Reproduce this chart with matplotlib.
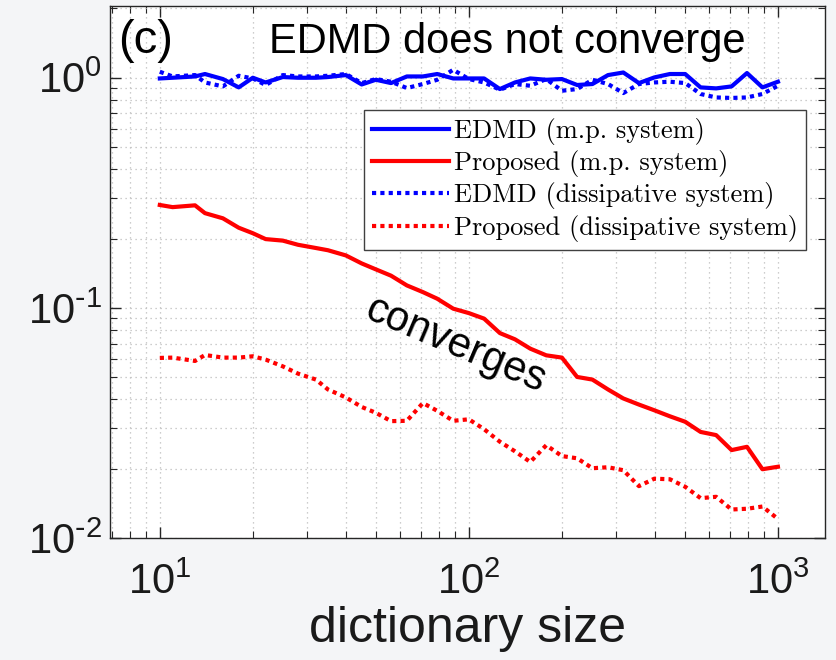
import matplotlib
matplotlib.use("Agg")
import matplotlib.pyplot as plt
from matplotlib.ticker import LogLocator, NullFormatter, FuncFormatter
import numpy as np

plt.rcParams['font.family'] = ['Liberation Sans', 'DejaVu Sans']

# dictionary sizes (41 log-spaced sizes between 10 and 1000)
dict_size = [10, 11, 13, 14, 16, 18, 20, 22, 25, 28, 32, 35, 40, 45, 50, 56, 63, 71, 79, 89,
             100, 112, 126, 141, 158, 178, 200, 224, 251, 282, 316, 355, 398, 447, 501, 562,
             631, 708, 794, 891, 1000]

# errors
edmd_mp = [0.993, 1.000, 1.013, 1.038, 0.987, 0.908, 1.000, 0.954, 1.007, 1.000, 1.000,
           1.007, 1.027, 0.935, 0.980, 0.948, 1.013, 1.013, 1.038, 0.993, 0.993, 0.993,
           0.893, 0.954, 0.993, 0.980, 0.987, 0.930, 0.939, 1.027, 1.054, 0.948, 1.003,
           1.038, 1.038, 0.908, 0.899, 0.917, 1.048, 0.908, 0.961]
prop_mp = [0.280, 0.274, 0.279, 0.258, 0.245, 0.223, 0.211, 0.199, 0.196, 0.188, 0.182,
           0.178, 0.169, 0.156, 0.147, 0.138, 0.1252, 0.1171, 0.1096, 0.0992, 0.0949,
           0.0898, 0.0777, 0.0730, 0.0665, 0.0622, 0.0608, 0.0501, 0.0488, 0.0442, 0.0404,
           0.0380, 0.0359, 0.0338, 0.0320, 0.0289, 0.0280, 0.0241, 0.0249, 0.0199, 0.0204]
edmd_diss = [1.062, 1.013, 1.027, 0.954, 0.917, 1.020, 0.993, 0.930, 1.027, 1.013, 1.013,
             1.020, 1.038, 0.948, 0.987, 0.961, 0.902, 0.939, 0.980, 1.083, 0.987, 0.954,
             0.887, 0.939, 0.923, 0.987, 0.878, 0.893, 0.980, 0.939, 0.858, 0.939, 0.954,
             0.961, 0.948, 0.850, 0.821, 0.817, 0.821, 0.850, 0.923]
prop_diss = [0.0606, 0.0608, 0.0588, 0.0624, 0.0608, 0.0608, 0.0616, 0.0596, 0.0557, 0.0518,
             0.0488, 0.0442, 0.0408, 0.0371, 0.0350, 0.0322, 0.0323, 0.0386, 0.0357, 0.0323,
             0.0328, 0.0297, 0.0262, 0.0238, 0.0214, 0.0253, 0.0227, 0.0222, 0.0201, 0.0203,
             0.0197, 0.0168, 0.0181, 0.0180, 0.0167, 0.0149, 0.0151, 0.0133, 0.0134, 0.0137,
             0.0121]

labels = ['EDMD (m.p. system)', 'Proposed (m.p. system)',
          'EDMD (dissipative system)', 'Proposed (dissipative system)']


def pow10(v, pos):
    # MATLAB-style label: short hyphen in the exponent
    e = int(round(np.log10(v)))
    if e < 0:
        return r'$\mathdefault{10^{\text{-}%d}}$' % (-e)
    return r'$\mathdefault{10^{%d}}$' % e


fig = plt.figure(figsize=(8.36, 6.6), dpi=100, facecolor='#f4f5f7')
ax = fig.add_axes([110/836, 122/660, 715/836, 532/660])

lw = 3.0
ax.plot(dict_size, edmd_mp, color='#0000ff', lw=lw, label=labels[0])
ax.plot(dict_size, prop_mp, color='#ff0000', lw=lw, label=labels[1])
ax.plot(dict_size, edmd_diss, color='#0000ff', lw=lw, ls=(0, (1, 1)), label=labels[2])
ax.plot(dict_size, prop_diss, color='#ff0000', lw=lw, ls=(0, (1, 1)), label=labels[3])

ax.set_xscale('log')
ax.set_yscale('log')
ax.set_xlim(6.9, 1420)
ax.set_ylim(0.01, 2.05)

ax.xaxis.set_major_locator(LogLocator(base=10, numticks=10))
ax.yaxis.set_major_locator(LogLocator(base=10, numticks=10))
ax.xaxis.set_major_formatter(FuncFormatter(pow10))
ax.yaxis.set_major_formatter(FuncFormatter(pow10))
ax.xaxis.set_minor_formatter(NullFormatter())
ax.yaxis.set_minor_formatter(NullFormatter())

ax.grid(True, which='both', ls=(0, (1, 3)), color='#bdbdbd', lw=0.9)
ax.set_axisbelow(True)
ax.tick_params(which='both', direction='in', top=True, right=True, colors='#262626',
               labelcolor='#1a1a1a', labelsize=30)
ax.tick_params(which='major', length=8, width=1)
ax.tick_params(which='minor', length=5, width=0.8)
ax.tick_params(axis='x', pad=18)
ax.tick_params(axis='y', pad=6)
for s in ax.spines.values():
    s.set_color('#262626')
    s.set_linewidth(1.0)

ax.set_xlabel('dictionary size', fontsize=36, color='#1a1a1a', labelpad=2)

ax.text(0.012, 0.935, '(c)', transform=ax.transAxes, fontsize=34, va='center', ha='left')
ax.text(0.555, 0.932, 'EDMD does not converge', transform=ax.transAxes, fontsize=30,
        va='center', ha='center')
ax.text(0.483, 0.363, 'converges', transform=ax.transAxes, fontsize=30, va='center',
        ha='center', rotation=-23)

leg = ax.legend(loc='upper right', bbox_to_anchor=(0.9734, 0.8045), fancybox=False,
                framealpha=1, edgecolor='#404040', prop={'family': 'cmr10', 'size': 19},
                handlelength=2.9, handletextpad=0.2, labelspacing=0.2, borderpad=0.3,
                borderaxespad=0)
leg.get_frame().set_linewidth(1.0)

fig.savefig('out.png', dpi=100, facecolor=fig.get_facecolor())
